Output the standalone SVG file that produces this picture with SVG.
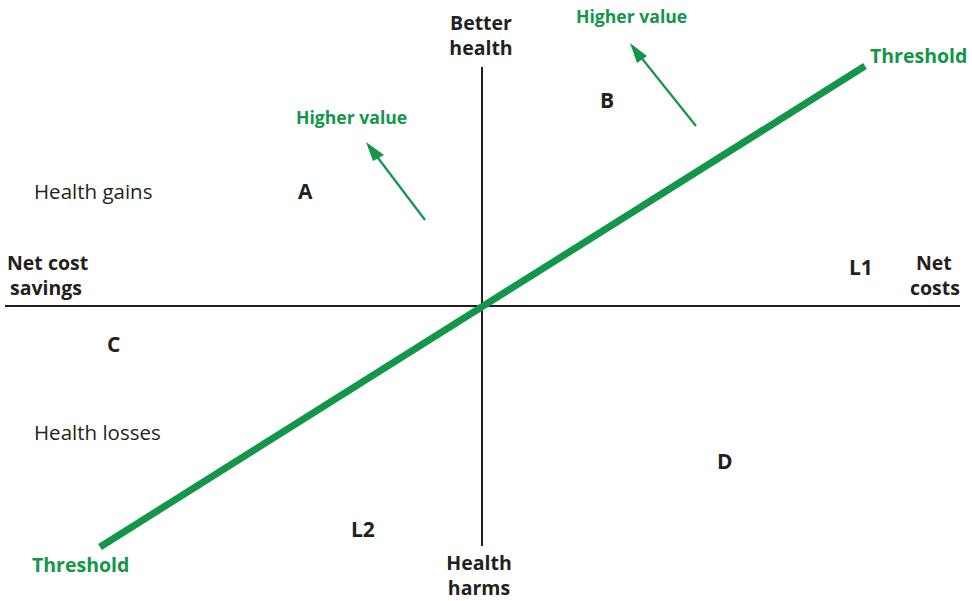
<svg xmlns="http://www.w3.org/2000/svg" width="972" height="601" viewBox="0 0 972 601">
<defs>
<style>
text{font-family:"Open Sans","Noto Sans","Liberation Sans",sans-serif;fill:#231f20}
.b{font-weight:bold;font-size:19.5px}
.r{font-weight:bold;font-size:21px}
.n{font-size:20.5px}
.g{fill:#13954a;font-weight:bold}
.ax{stroke:#231f20;stroke-width:2;fill:none}
</style>
</defs>
<rect width="972" height="601" fill="#fff"/>
<g id="connectors">
<line class="ax" x1="5" y1="306" x2="960" y2="306"/>
<line class="ax" x1="482" y1="67" x2="482" y2="546"/>
<line x1="100" y1="547" x2="865" y2="66" stroke="#13954a" stroke-width="7"/>
<line x1="425" y1="220" x2="372" y2="150" stroke="#13954a" stroke-width="2.2"/>
<path d="M366,142 L384,155 L373,161 z" fill="#13954a"/>
<line x1="696" y1="126" x2="636" y2="51" stroke="#13954a" stroke-width="2.2"/>
<path d="M630,43 L647,56 L637,63 z" fill="#13954a"/>
</g>
<g id="axis-labels">
<text class="b" x="481" y="30" text-anchor="middle">Better</text>
<text class="b" x="481" y="55" text-anchor="middle">health</text>
<text class="b" x="479" y="570" text-anchor="middle">Health</text>
<text class="b" x="479" y="595" text-anchor="middle">harms</text>
<text class="b" x="7" y="270">Net cost</text>
<text class="b" x="10" y="295">savings</text>
<text class="b" x="916" y="270">Net</text>
<text class="b" x="910" y="295">costs</text>
</g>
<g id="region-labels">
<text class="r" x="298" y="199">A</text>
<text class="r" x="600" y="108">B</text>
<text class="r" x="107" y="352">C</text>
<text class="r" x="717" y="469">D</text>
<text class="r" x="849" y="275">L1</text>
<text class="r" x="351" y="537">L2</text>
<text class="n" x="34" y="199">Health gains</text>
<text class="n" x="34" y="440">Health losses</text>
</g>
<g id="green-labels">
<text class="g" x="296" y="124" font-size="17.6">Higher value</text>
<text class="g" x="576" y="23" font-size="17.6">Higher value</text>
<text class="g" x="870" y="63" font-size="19.5">Threshold</text>
<text class="g" x="32" y="572" font-size="19.5">Threshold</text>
</g>
</svg>
